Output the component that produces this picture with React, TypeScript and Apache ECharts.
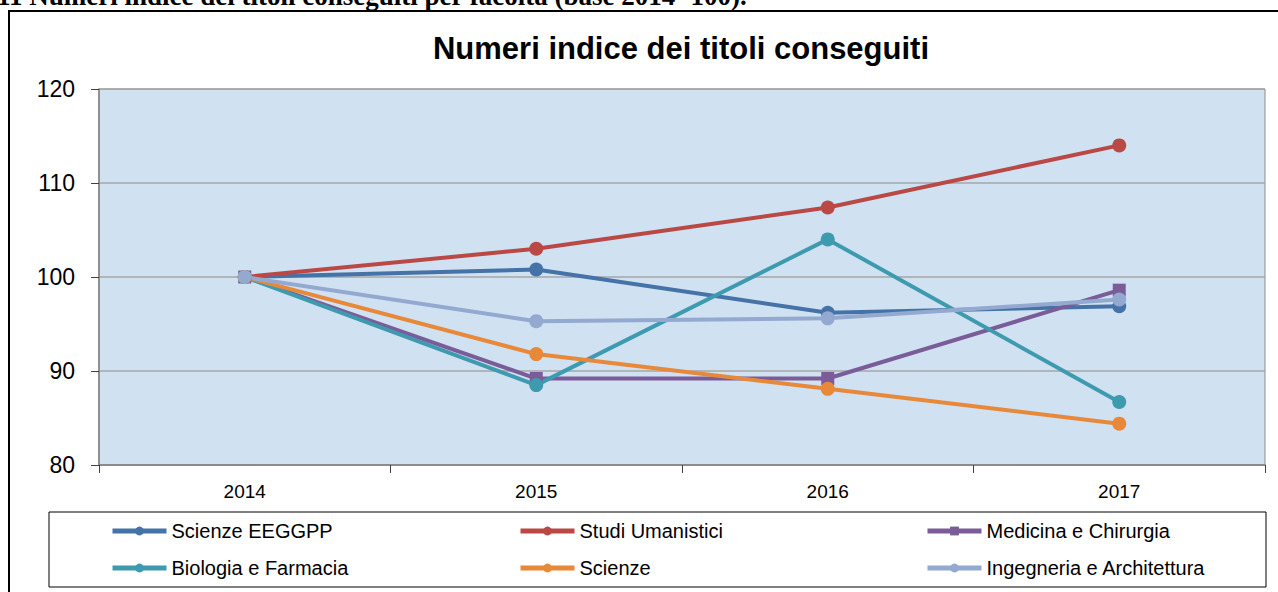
import React, { useEffect, useRef } from "react";
import * as echarts from "echarts";

const categories = ["2014", "2015", "2016", "2017"];
const seriesNames = [
  "Scienze EEGGPP",
  "Studi Umanistici",
  "Medicina e Chirurgia",
  "Biologia e Farmacia",
  "Scienze",
  "Ingegneria e Architettura",
];
const scienzeEEGGPP = [100, 100.8, 96.2, 96.9];
const studiUmanistici = [100, 103.0, 107.4, 114.0];
const medicinaChirurgia = [100, 89.2, 89.2, 98.6];
const biologiaFarmacia = [100, 88.5, 104.0, 86.7];
const scienze = [100, 91.8, 88.1, 84.4];
const ingegneriaArchitettura = [100, 95.3, 95.6, 97.6];
const seriesValues = [
  scienzeEEGGPP,
  studiUmanistici,
  medicinaChirurgia,
  biologiaFarmacia,
  scienze,
  ingegneriaArchitettura,
];
const colors = ["#4572A7", "#BA4845", "#7A5C98", "#3E9AAE", "#E8893A", "#93A9D0"];
const symbols = ["circle", "circle", "rect", "circle", "circle", "circle"];
const yTicks = { min: 80, max: 120, interval: 10 };

const legendPos = [
  { left: 110, top: 521 },
  { left: 518, top: 521 },
  { left: 925, top: 521 },
  { left: 110, top: 558 },
  { left: 518, top: 558 },
  { left: 925, top: 558 },
];

export default function App() {
  const ref = useRef<HTMLDivElement>(null);
  useEffect(() => {
    if (!ref.current) return;
    const chart = echarts.init(ref.current, null, { renderer: "svg" });
    const font = "Liberation Sans, Arial, sans-serif";
    chart.setOption({
      animation: false,
      textStyle: { fontFamily: font },
      title: {
        text: "Numeri indice dei titoli conseguiti",
        left: 676,
        top: 28,
        textAlign: "center",
        textStyle: { fontSize: 31, fontWeight: "bold", color: "#000", fontFamily: font },
      },
      graphic: [
        {
          type: "text",
          left: -3,
          top: -18,
          style: {
            text: "11 Numeri indice dei titoli conseguiti per facoltà (base 2014=100).",
            font: "bold 27px 'Liberation Serif', 'Times New Roman', serif",
            fill: "#000",
          },
          z: 10,
        },
        {
          type: "rect",
          shape: { x: 9, y: 11, width: 1300, height: 620 },
          style: { fill: "none", stroke: "#000", lineWidth: 2 },
          z: 10,
        },
        {
          type: "rect",
          shape: { x: 49, y: 512, width: 1217, height: 75 },
          style: { fill: "none", stroke: "#000", lineWidth: 1 },
          z: 10,
        },
      ],
      legend: seriesNames.map((n, i) => ({
        data: [n],
        left: legendPos[i].left,
        top: legendPos[i].top,
        padding: 0,
        itemWidth: 54,
        itemHeight: 11,
        itemGap: 4,
        lineStyle: { width: 5 },
        textStyle: { fontSize: 20, color: "#000", fontFamily: font },
      })),
      grid: {
        left: 99,
        right: 13,
        top: 89,
        bottom: 127,
        show: true,
        backgroundColor: "#D0E1F2",
        borderColor: "#8C8C8C",
        borderWidth: 1,
      },
      xAxis: {
        type: "category",
        data: categories,
        boundaryGap: true,
        axisLine: { lineStyle: { color: "#808080", width: 1.5 } },
        axisTick: { show: true, length: 8, lineStyle: { color: "#404040" } },
        axisLabel: { fontSize: 19, color: "#000", margin: 17 },
        splitLine: { show: false },
      },
      yAxis: {
        type: "value",
        min: yTicks.min,
        max: yTicks.max,
        interval: yTicks.interval,
        axisLine: { show: true, lineStyle: { color: "#808080", width: 1.5 } },
        axisTick: { show: true, length: 8, lineStyle: { color: "#404040" } },
        axisLabel: { fontSize: 23, color: "#000", margin: 24 },
        splitLine: { show: true, lineStyle: { color: "#A6A6A6", width: 1.5 } },
      },
      series: seriesNames.map((n, i) => ({
        name: n,
        type: "line",
        data: seriesValues[i],
        symbol: symbols[i],
        symbolSize: symbols[i] === "rect" ? 13 : 14,
        itemStyle: { color: colors[i] },
        lineStyle: { color: colors[i], width: 4 },
        emphasis: { disabled: true },
      })),
    });
    return () => chart.dispose();
  }, []);
  return (
    <div
      ref={ref}
      style={{ position: "fixed", left: 0, top: 0, width: 1278, height: 592, background: "#fff" }}
    />
  );
}
